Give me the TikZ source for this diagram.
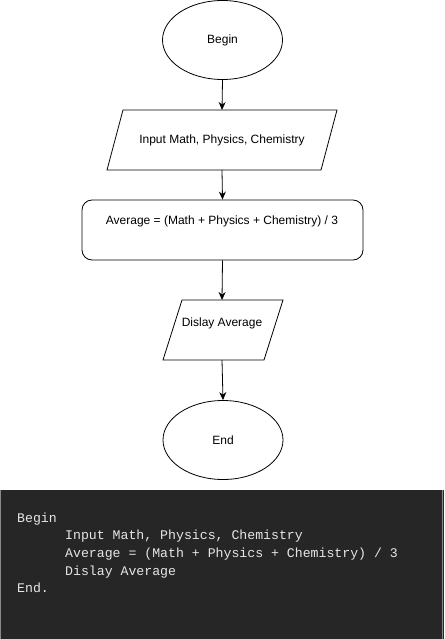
\documentclass[tikz,border=0pt]{standalone}
\usepackage{fontspec}
\setmainfont{Liberation Sans}
\newfontfamily\codefont{Liberation Mono}
\usetikzlibrary{shapes.geometric,arrows.meta}
\definecolor{codebg}{HTML}{262626}
\definecolor{codeborder}{HTML}{8A8A8A}
\definecolor{codetext}{HTML}{E6E6E6}
\tikzset{
  term/.style={draw=black, line width=0.8pt, ellipse, minimum width=120pt, minimum height=79pt, inner sep=0pt, font=\fontsize{12}{14}\selectfont},
  io/.style={draw=black, line width=0.8pt, trapezium, trapezium left angle=75, trapezium right angle=105, inner sep=0pt, font=\fontsize{12}{14}\selectfont},
  proc/.style={draw=black, line width=0.8pt, rounded corners=10pt, minimum width=281pt, minimum height=60pt, inner sep=0pt},
  lbl/.style={font=\fontsize{12}{14}\selectfont, inner sep=0pt},
  flow/.style={line width=0.8pt, -{Stealth[length=8pt,width=7pt]}},
  codeline/.style={anchor=base west, inner sep=0pt, text=codetext, font=\codefont\fontsize{13.2}{16}\selectfont}
}
\begin{document}
\begin{tikzpicture}[x=1pt,y=-1pt]
\useasboundingbox (0,0) rectangle (444,639);
% flowchart
\node[term] (begin) at (222.5,40) {Begin};
\draw[line width=0.8pt] (123,110) coordinate (i1) -- (337,110) -- (321,170) -- (107,170) -- cycle;
\node[lbl] (input) at (222,140) {Input Math, Physics, Chemistry};
\coordinate (inputtop) at (222,110);
\coordinate (inputbot) at (222,170);
\node[proc] (avg) at (222.5,230) {};
\node[lbl] (avgtext) at (222,221) {Average = (Math + Physics + Chemistry) / 3};
\draw[line width=0.8pt] (182,300) -- (283,300) -- (264,360) -- (163,360) -- cycle;
\node[lbl] (disp) at (222,323) {Dislay Average};
\coordinate (disptop) at (222,300);
\coordinate (dispbot) at (222,360);
\node[term] (end) at (223,440) {End};
\draw[flow] (begin.south) -- (inputtop);
\draw[flow] (inputbot) -- (avg.north);
\draw[flow] (avg.south) -- (disptop);
\draw[flow] (dispbot) -- (end.north);
% code block
\fill[codebg] (0,490) rectangle (444,639);
\draw[codeborder, line width=1pt] (0.5,490) -- (0.5,639);
\draw[codeborder, line width=1pt] (442.5,490) -- (442.5,639);
\node[codeline] (c1) at (17,522) {Begin};
\node[codeline] (c2) at (65,539) {Input Math, Physics, Chemistry};
\node[codeline] (c3) at (65,557) {Average = (Math + Physics + Chemistry) / 3};
\node[codeline] (c4) at (65,575) {Dislay Average};
\node[codeline] (c5) at (17,592) {End.};
\end{tikzpicture}
\end{document}
